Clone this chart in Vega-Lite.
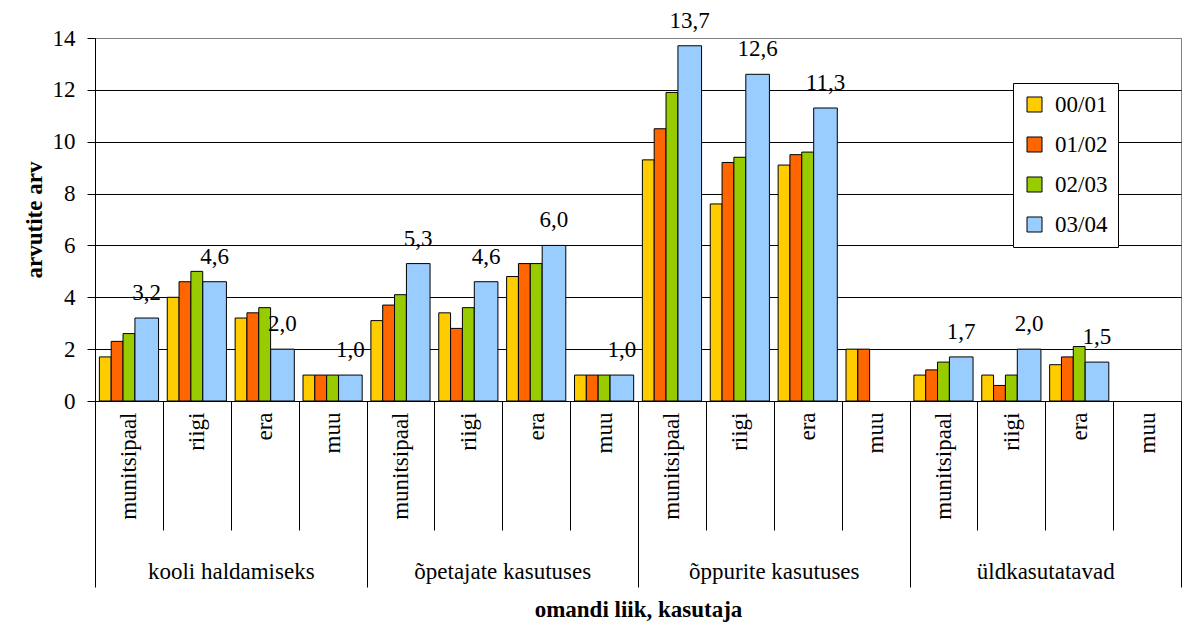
{
  "$schema": "https://vega.github.io/schema/vega-lite/v6.json",
  "width": 1086,
  "height": 363,
  "autosize": {"type": "none"},
  "padding": {"left": 95, "top": 38, "right": 8, "bottom": 222},
  "background": "white",
  "config": {
    "locale": {"number": {"decimal": ",", "thousands": " ", "grouping": [3], "currency": ["", " €"]}},
    "font": "\"Liberation Serif\", \"Times New Roman\", \"DejaVu Serif\", serif",
    "text": {"font": "\"Liberation Serif\", \"Times New Roman\", \"DejaVu Serif\", serif"},
    "view": {"stroke": "#808080", "strokeWidth": 1},
    "axis": {"labelFont": "\"Liberation Serif\", \"Times New Roman\", \"DejaVu Serif\", serif", "titleFont": "\"Liberation Serif\", \"Times New Roman\", \"DejaVu Serif\", serif", "labelColor": "black", "titleColor": "black", "domainColor": "black", "tickColor": "black", "domainWidth": 1, "tickWidth": 1},
    "legend": {"labelFont": "\"Liberation Serif\", \"Times New Roman\", \"DejaVu Serif\", serif"}
  },
  "data": {
    "values": [
      {"grp": "kooli haldamiseks", "own": "munitsipaal", "season": "00/01", "v": 1.7},
      {"grp": "kooli haldamiseks", "own": "munitsipaal", "season": "01/02", "v": 2.3},
      {"grp": "kooli haldamiseks", "own": "munitsipaal", "season": "02/03", "v": 2.6},
      {"grp": "kooli haldamiseks", "own": "munitsipaal", "season": "03/04", "v": 3.2},
      {"grp": "kooli haldamiseks", "own": "riigi", "season": "00/01", "v": 4.0},
      {"grp": "kooli haldamiseks", "own": "riigi", "season": "01/02", "v": 4.6},
      {"grp": "kooli haldamiseks", "own": "riigi", "season": "02/03", "v": 5.0},
      {"grp": "kooli haldamiseks", "own": "riigi", "season": "03/04", "v": 4.6},
      {"grp": "kooli haldamiseks", "own": "era", "season": "00/01", "v": 3.2},
      {"grp": "kooli haldamiseks", "own": "era", "season": "01/02", "v": 3.4},
      {"grp": "kooli haldamiseks", "own": "era", "season": "02/03", "v": 3.6},
      {"grp": "kooli haldamiseks", "own": "era", "season": "03/04", "v": 2.0},
      {"grp": "kooli haldamiseks", "own": "muu", "season": "00/01", "v": 1.0},
      {"grp": "kooli haldamiseks", "own": "muu", "season": "01/02", "v": 1.0},
      {"grp": "kooli haldamiseks", "own": "muu", "season": "02/03", "v": 1.0},
      {"grp": "kooli haldamiseks", "own": "muu", "season": "03/04", "v": 1.0},
      {"grp": "õpetajate kasutuses", "own": "munitsipaal", "season": "00/01", "v": 3.1},
      {"grp": "õpetajate kasutuses", "own": "munitsipaal", "season": "01/02", "v": 3.7},
      {"grp": "õpetajate kasutuses", "own": "munitsipaal", "season": "02/03", "v": 4.1},
      {"grp": "õpetajate kasutuses", "own": "munitsipaal", "season": "03/04", "v": 5.3},
      {"grp": "õpetajate kasutuses", "own": "riigi", "season": "00/01", "v": 3.4},
      {"grp": "õpetajate kasutuses", "own": "riigi", "season": "01/02", "v": 2.8},
      {"grp": "õpetajate kasutuses", "own": "riigi", "season": "02/03", "v": 3.6},
      {"grp": "õpetajate kasutuses", "own": "riigi", "season": "03/04", "v": 4.6},
      {"grp": "õpetajate kasutuses", "own": "era", "season": "00/01", "v": 4.8},
      {"grp": "õpetajate kasutuses", "own": "era", "season": "01/02", "v": 5.3},
      {"grp": "õpetajate kasutuses", "own": "era", "season": "02/03", "v": 5.3},
      {"grp": "õpetajate kasutuses", "own": "era", "season": "03/04", "v": 6.0},
      {"grp": "õpetajate kasutuses", "own": "muu", "season": "00/01", "v": 1.0},
      {"grp": "õpetajate kasutuses", "own": "muu", "season": "01/02", "v": 1.0},
      {"grp": "õpetajate kasutuses", "own": "muu", "season": "02/03", "v": 1.0},
      {"grp": "õpetajate kasutuses", "own": "muu", "season": "03/04", "v": 1.0},
      {"grp": "õppurite kasutuses", "own": "munitsipaal", "season": "00/01", "v": 9.3},
      {"grp": "õppurite kasutuses", "own": "munitsipaal", "season": "01/02", "v": 10.5},
      {"grp": "õppurite kasutuses", "own": "munitsipaal", "season": "02/03", "v": 11.9},
      {"grp": "õppurite kasutuses", "own": "munitsipaal", "season": "03/04", "v": 13.7},
      {"grp": "õppurite kasutuses", "own": "riigi", "season": "00/01", "v": 7.6},
      {"grp": "õppurite kasutuses", "own": "riigi", "season": "01/02", "v": 9.2},
      {"grp": "õppurite kasutuses", "own": "riigi", "season": "02/03", "v": 9.4},
      {"grp": "õppurite kasutuses", "own": "riigi", "season": "03/04", "v": 12.6},
      {"grp": "õppurite kasutuses", "own": "era", "season": "00/01", "v": 9.1},
      {"grp": "õppurite kasutuses", "own": "era", "season": "01/02", "v": 9.5},
      {"grp": "õppurite kasutuses", "own": "era", "season": "02/03", "v": 9.6},
      {"grp": "õppurite kasutuses", "own": "era", "season": "03/04", "v": 11.3},
      {"grp": "õppurite kasutuses", "own": "muu", "season": "00/01", "v": 2.0},
      {"grp": "õppurite kasutuses", "own": "muu", "season": "01/02", "v": 2.0},
      {"grp": "üldkasutatavad", "own": "munitsipaal", "season": "00/01", "v": 1.0},
      {"grp": "üldkasutatavad", "own": "munitsipaal", "season": "01/02", "v": 1.2},
      {"grp": "üldkasutatavad", "own": "munitsipaal", "season": "02/03", "v": 1.5},
      {"grp": "üldkasutatavad", "own": "munitsipaal", "season": "03/04", "v": 1.7},
      {"grp": "üldkasutatavad", "own": "riigi", "season": "00/01", "v": 1.0},
      {"grp": "üldkasutatavad", "own": "riigi", "season": "01/02", "v": 0.6},
      {"grp": "üldkasutatavad", "own": "riigi", "season": "02/03", "v": 1.0},
      {"grp": "üldkasutatavad", "own": "riigi", "season": "03/04", "v": 2.0},
      {"grp": "üldkasutatavad", "own": "era", "season": "00/01", "v": 1.4},
      {"grp": "üldkasutatavad", "own": "era", "season": "01/02", "v": 1.7},
      {"grp": "üldkasutatavad", "own": "era", "season": "02/03", "v": 2.1},
      {"grp": "üldkasutatavad", "own": "era", "season": "03/04", "v": 1.5}
    ]
  },
  "transform": [{"calculate": "datum.grp + '|' + datum.own", "as": "cat"}],
  "layer": [
    {
      "encoding": {
        "x": {
          "field": "cat", "type": "nominal",
          "scale": {
            "domain": [
              "kooli haldamiseks|munitsipaal", "kooli haldamiseks|riigi", "kooli haldamiseks|era", "kooli haldamiseks|muu",
              "õpetajate kasutuses|munitsipaal", "õpetajate kasutuses|riigi", "õpetajate kasutuses|era", "õpetajate kasutuses|muu",
              "õppurite kasutuses|munitsipaal", "õppurite kasutuses|riigi", "õppurite kasutuses|era", "õppurite kasutuses|muu",
              "üldkasutatavad|munitsipaal", "üldkasutatavad|riigi", "üldkasutatavad|era", "üldkasutatavad|muu"
            ],
            "paddingInner": 0, "paddingOuter": 0
          },
          "axis": {
            "title": null,
            "labelExpr": "split(datum.label, '|')[1]",
            "labelAngle": -90, "labelAlign": "right", "labelBaseline": "middle",
            "labelFontSize": 23, "labelPadding": -118, "labelOverlap": false, "labelLimit": 0,
            "tickBand": "extent", "tickSize": 129, "grid": false, "domain": true
          }
        },
        "y": {
          "field": "v", "type": "quantitative",
          "scale": {"domain": [0, 14], "nice": false},
          "axis": {
            "title": "arvutite arv", "titleFontSize": 23, "titleFontWeight": "bold", "titlePadding": 6,
            "values": [0, 2, 4, 6, 8, 10, 12, 14], "labelFontSize": 23, "tickSize": 8, "labelPadding": 12,
            "grid": true, "gridWidth": 1,
            "gridColor": {"condition": {"test": "datum.value == 14", "value": "#808080"}, "value": "black"}
          }
        }
      },
      "layer": [
        {
          "transform": [{"filter": "datum.season != '03/04'"}],
          "mark": {"type": "bar", "stroke": "black", "strokeWidth": 1},
          "encoding": {
            "xOffset": {
              "field": "season", "type": "nominal",
              "scale": {"domain": ["00/01", "01/02", "02/03", "03/04", "~"], "paddingInner": 0, "paddingOuter": 0.37}
            },
            "color": {
              "field": "season", "type": "nominal",
              "scale": {"domain": ["00/01", "01/02", "02/03", "03/04"], "range": ["#FFCC00", "#FF6600", "#99CC00", "#99CCFF"]},
              "legend": {
                "title": null, "orient": "none", "legendX": 918, "legendY": 45,
                "fillColor": "white", "strokeColor": "black", "padding": 10,
                "symbolType": "square", "symbolSize": 225, "symbolStrokeColor": "black", "symbolStrokeWidth": 1, "symbolOpacity": 1,
                "labelFontSize": 23, "labelColor": "black",
                "rowPadding": 16, "labelOffset": 9
              }
            }
          }
        },
        {
          "transform": [{"filter": "datum.season == '03/04'"}],
          "mark": {"type": "bar", "stroke": "black", "strokeWidth": 1, "width": {"band": 0.348}, "xOffset": 17.8},
          "encoding": {
            "color": {"field": "season", "type": "nominal"}
          }
        },
        {
          "transform": [{"filter": "datum.season == '03/04'"}],
          "mark": {"type": "text", "baseline": "alphabetic", "dy": -18, "fontSize": 23, "color": "black"},
          "encoding": {
            "x": {"field": "cat", "type": "nominal", "bandPosition": 0.762},
            "text": {"field": "v", "type": "quantitative", "format": ".1f"}
          }
        }
      ]
    },
    {
      "mark": {"type": "bar", "opacity": 0},
      "encoding": {
        "x": {
          "field": "grp", "type": "nominal",
          "scale": {"type": "band", "domain": ["kooli haldamiseks", "õpetajate kasutuses", "õppurite kasutuses", "üldkasutatavad"], "paddingInner": 0, "paddingOuter": 0},
          "axis": {
            "orient": "bottom", "title": "omandi liik, kasutaja", "titleFontSize": 23, "titleFontWeight": "bold", "titlePadding": 11,
            "labelFontSize": 23, "labelPadding": -27, "labelAngle": 0, "labelAlign": "center", "labelBaseline": "top", "labelLimit": 0,
            "tickSize": 186, "tickBand": "extent", "domain": false, "grid": false
          }
        }
      }
    }
  ],
  "resolve": {"scale": {"x": "independent"}, "axis": {"x": "independent"}}
}
